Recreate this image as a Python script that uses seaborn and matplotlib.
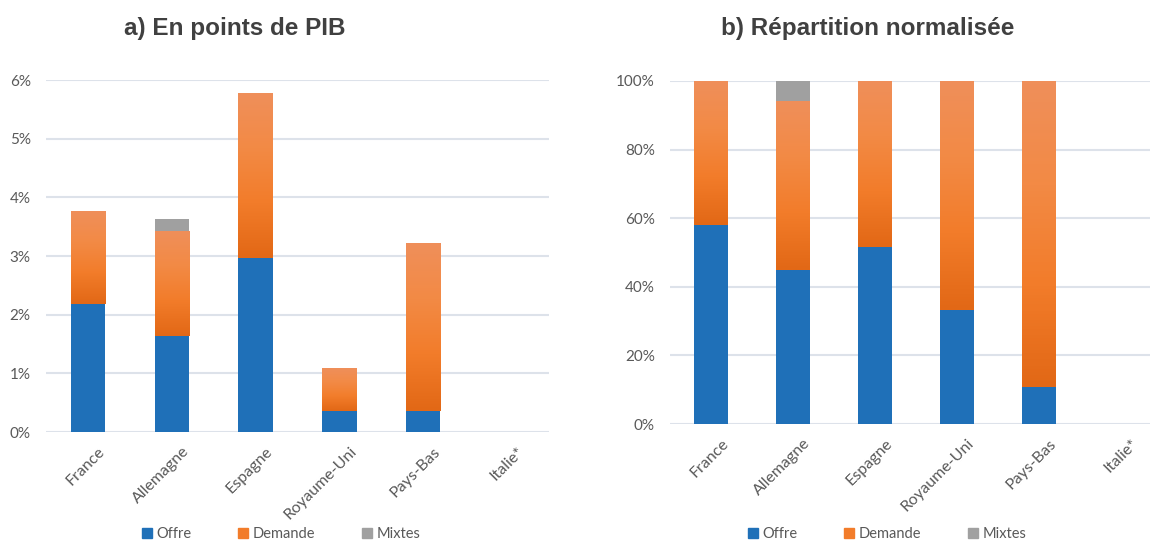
import numpy as np
import pandas as pd
import seaborn as sns
import matplotlib.pyplot as plt
import matplotlib.transforms as mtransforms
from matplotlib.patches import Patch
from matplotlib.colors import LinearSegmentedColormap

pays = ['France', 'Allemagne', 'Espagne', 'Royaume-Uni', 'Pays-Bas', 'Italie*']
offre = [2.19, 1.63, 2.97, 0.36, 0.35, 0.0]
demande = [1.58, 1.79, 2.80, 0.725, 2.88, 0.0]
mixtes = [0.0, 0.21, 0.0, 0.0, 0.0, 0.0]
series = ['Offre', 'Demande', 'Mixtes']

BLUE = '#1f70b8'
ORANGE = '#f27c2a'
GREY = '#a0a0a0'
TXT = '#595959'
GRID = '#dde2ea'

df = pd.DataFrame({'pays': pays, 'Offre': offre, 'Demande': demande, 'Mixtes': mixtes})
total = df[series].sum(axis=1)
norm = df.copy()
for s in series:
    norm[s] = np.where(total > 0, df[s] / total.replace(0, np.nan) * 100, 0.0)

sns.set_theme(style='white')
plt.rcParams['font.family'] = ['Lato', 'DejaVu Sans']

fig = plt.figure(figsize=(11.5, 5.41), dpi=100)
W, H = 1150, 541
ax1 = fig.add_axes([46 / W, 1 - 432 / H, 503 / W, 352 / H])
ax2 = fig.add_axes([670 / W, 1 - 424 / H, 492 / W, 343 / H])

orange_cmap = LinearSegmentedColormap.from_list(
    'og', ['#e26816', '#f27c2a', '#f38a45', '#ef8f5a'])


def stacked(ax, data, ymax, step):
    bottom = np.zeros(len(data))
    colors = {'Offre': BLUE, 'Demande': ORANGE, 'Mixtes': GREY}
    for s in series:
        n_before = len(ax.patches)
        sns.barplot(x=data['pays'], y=data[s], bottom=bottom, color=colors[s],
                    width=0.41, linewidth=0, ax=ax, saturation=1)
        if s == 'Demande':
            # Excel-like gradient fill on the orange segments
            for p in ax.patches[n_before:]:
                h = p.get_height()
                if h <= 0:
                    continue
                x0, y0 = p.get_x(), p.get_y()
                grad = np.linspace(0, 1, 100).reshape(-1, 1)
                im = ax.imshow(grad, cmap=orange_cmap, aspect='auto', origin='lower',
                               extent=[x0, x0 + p.get_width(), y0, y0 + h], zorder=p.get_zorder() + 0.1)
                im.set_clip_path(p)
        bottom = bottom + data[s].values
    ax.set_xlim(-0.5, len(data) - 0.5)
    ax.set_ylim(0, ymax)
    ticks = np.arange(0, ymax + step / 2, step)
    ax.set_yticks(ticks)
    ax.set_yticklabels([f'{v:.0f}%' for v in ticks], color=TXT, fontsize=11)
    ax.yaxis.grid(True, color=GRID, linewidth=1.5)
    ax.set_axisbelow(True)
    for sp in ax.spines.values():
        sp.set_visible(False)
    ax.set_xlabel('')
    ax.set_ylabel('')
    ax.tick_params(axis='both', length=0)
    ax.tick_params(axis='y', pad=11)
    ax.set_xticks(range(len(data)))
    ax.set_xticklabels(data['pays'], rotation=45, ha='right', rotation_mode='anchor',
                       color=TXT, fontsize=11.5)
    ax.tick_params(axis='x', pad=9)
    shift = mtransforms.ScaledTranslation(10 / 100, 0, fig.dpi_scale_trans)
    for lab in ax.get_xticklabels():
        lab.set_transform(lab.get_transform() + shift)


stacked(ax1, df, 6, 1)
stacked(ax2, norm, 100, 20)

fig.text(235 / W, 1 - 29 / H, 'a) En points de PIB', ha='center', va='center',
         fontsize=17.5, fontweight='bold', color='#404040', family='Liberation Sans')
fig.text(868 / W, 1 - 29 / H, 'b) Répartition normalisée', ha='center', va='center',
         fontsize=17.5, fontweight='bold', color='#404040', family='Liberation Sans')

handles = [Patch(color=BLUE, label='Offre'), Patch(color=ORANGE, label='Demande'),
           Patch(color=GREY, label='Mixtes')]
for cx in (281, 887):
    fig.legend(handles=handles, loc='center', bbox_to_anchor=(cx / W, 1 - 534 / H), ncol=3,
               frameon=False, fontsize=10.5, handlelength=0.7, handleheight=0.7,
               handletextpad=0.3, columnspacing=3.2, labelcolor=TXT)

fig.savefig('out.png', dpi=100)
